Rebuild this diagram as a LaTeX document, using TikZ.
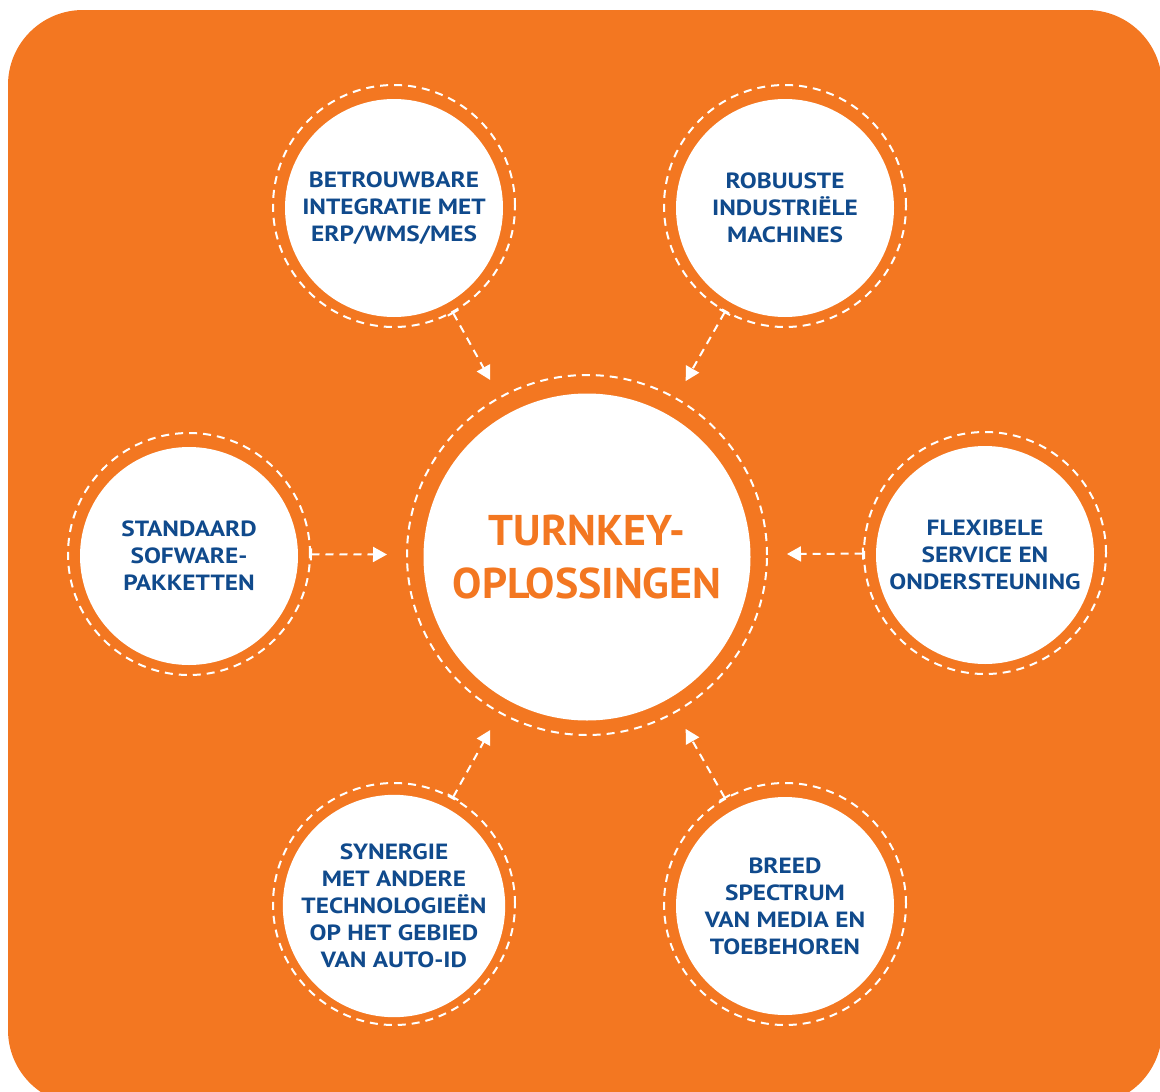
\documentclass[tikz,border=0pt]{standalone}
\usepackage{fontspec}
\setmainfont{PT Sans}
\newfontfamily\satfont[FakeStretch=1.15]{PT Sans}
\newfontfamily\cenfont[FakeStretch=1.02]{PT Sans}
\usetikzlibrary{arrows.meta}
\definecolor{org}{RGB}{243,119,33}
\definecolor{navy}{RGB}{16,74,140}
\tikzset{
  disc/.style={circle,fill=white,minimum size=218pt,inner sep=0pt,outer sep=0pt,
    text=navy,font=\satfont\fontsize{22}{27}\selectfont\bfseries,align=center},
  bigdisc/.style={circle,fill=white,minimum size=327pt,inner sep=0pt,outer sep=0pt,
    text=org,font=\cenfont\fontsize{43}{53}\selectfont\bfseries,align=center},
  ring/.style={circle,draw=white,line width=2pt,dash pattern=on 8pt off 6pt,
    minimum size=242pt,inner sep=0pt,outer sep=0pt},
  bigring/.style={ring,minimum size=360pt},
  conn/.style={white,line width=2pt,dash pattern=on 8pt off 6pt,
    {Bar[width=12pt,line width=2pt]}-{Triangle[length=14pt,width=15pt]},shorten >=20pt}
}
\begin{document}
\begin{tikzpicture}[x=1pt,y=-1pt]
\useasboundingbox (0,0) rectangle (1160,1092);
\clip (0,0) rectangle (1160,1092);
\fill[org,rounded corners=75pt] (8,10) rectangle (1162,1105);
% centre
\node[bigring] (cr) at (587,555) {};
\node[bigdisc] (c) at (587,557) {TURNKEY-\\OPLOSSINGEN};
% satellites
\node[ring] (r1) at (394,206) {};
\node[disc] (d1) at (394,208) {BETROUWBARE\\INTEGRATIE MET\\ERP/WMS/MES};
\node[ring] (r2) at (785,206) {};
\node[disc] (d2) at (785,208) {ROBUUSTE\\INDUSTRIËLE\\MACHINES};
\node[ring] (r3) at (189,554) {};
\node[disc] (d3) at (189,556) {STANDAARD\\SOFWARE-\\PAKKETTEN};
\node[ring] (r4) at (985,553) {};
\node[disc] (d4) at (985,555) {FLEXIBELE\\SERVICE EN\\ONDERSTEUNING};
\node[ring] (r5) at (394,904) {};
\node[disc] (d5) at (394,906) {SYNERGIE\\MET ANDERE\\TECHNOLOGIEËN\\OP HET GEBIED\\VAN AUTO-ID};
\node[ring] (r6) at (785,904) {};
\node[disc] (d6) at (785,906) {BREED\\SPECTRUM\\VAN MEDIA EN\\TOEBEHOREN};
% connectors
\draw[conn] (r1) -- (cr);
\draw[conn] (r2) -- (cr);
\draw[conn] (r3) -- (cr);
\draw[conn] (r4) -- (cr);
\draw[conn] (r5) -- (cr);
\draw[conn] (r6) -- (cr);
\end{tikzpicture}
\end{document}
